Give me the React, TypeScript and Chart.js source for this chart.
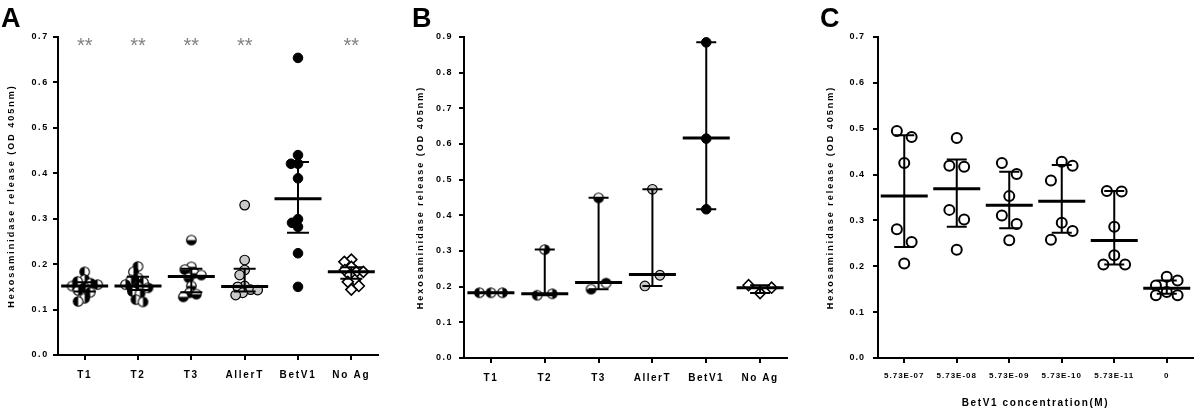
import React, { useEffect, useRef } from 'react';
import { Chart, registerables } from 'chart.js';

Chart.register(...registerables);

const FONT = "'Liberation Sans', Arial, Helvetica, sans-serif";
const W = 400;
const H = 410;

// ---------------- Panel A ----------------
const A_CATEGORIES = ['T1', 'T2', 'T3', 'AllerT', 'BetV1', 'No Ag'];
const A_Y_TICKS = [0, 0.1, 0.2, 0.3, 0.4, 0.5, 0.6, 0.7];
const A_T1 = [0.183, 0.166, 0.162, 0.158, 0.155, 0.152, 0.148, 0.142, 0.138, 0.125, 0.118];
const A_T2 = [0.195, 0.183, 0.17, 0.165, 0.16, 0.155, 0.15, 0.148, 0.14, 0.135, 0.122, 0.117];
const A_T3 = [0.253, 0.194, 0.188, 0.18, 0.176, 0.17, 0.152, 0.137, 0.134, 0.128];
const A_ALLERT = [0.33, 0.209, 0.187, 0.176, 0.152, 0.15, 0.144, 0.143, 0.137, 0.132];
const A_BETV1 = [0.654, 0.44, 0.421, 0.421, 0.389, 0.299, 0.291, 0.282, 0.224, 0.15];
const A_NOAG = [0.21, 0.205, 0.194, 0.187, 0.183, 0.183, 0.176, 0.165, 0.161, 0.152, 0.144];
const A_MEDIAN = [0.152, 0.152, 0.173, 0.151, 0.344, 0.183];
const A_LOW = [0.14, 0.143, 0.138, 0.14, 0.269, 0.168];
const A_HIGH = [0.16, 0.172, 0.19, 0.19, 0.425, 0.193];
const A_SIGNIF = ['**', '**', '**', '**', '', '**'];

// ---------------- Panel B ----------------
const B_CATEGORIES = ['T1', 'T2', 'T3', 'AllerT', 'BetV1', 'No Ag'];
const B_Y_TICKS = [0, 0.1, 0.2, 0.3, 0.4, 0.5, 0.6, 0.7, 0.8, 0.9];
const B_T1 = [0.183, 0.183, 0.183];
const B_T2 = [0.304, 0.176, 0.18];
const B_T3 = [0.449, 0.193, 0.21];
const B_ALLERT = [0.473, 0.202, 0.232];
const B_BETV1 = [0.885, 0.615, 0.417];
const B_NOAG = [0.204, 0.197, 0.182];
const B_MEDIAN = [0.183, 0.18, 0.212, 0.234, 0.617, 0.197];
const B_LOW = [0.183, 0.176, 0.193, 0.202, 0.417, 0.182];
const B_HIGH = [0.183, 0.304, 0.449, 0.473, 0.885, 0.204];

// ---------------- Panel C ----------------
const C_CATEGORIES = ['5.73E-07', '5.73E-08', '5.73E-09', '5.73E-10', '5.73E-11', '0'];
const C_Y_TICKS = [0, 0.1, 0.2, 0.3, 0.4, 0.5, 0.6, 0.7];
const C_E07 = [0.495, 0.482, 0.425, 0.281, 0.253, 0.206];
const C_E08 = [0.48, 0.419, 0.417, 0.323, 0.302, 0.236];
const C_E09 = [0.425, 0.401, 0.353, 0.311, 0.292, 0.257];
const C_E10 = [0.428, 0.419, 0.387, 0.295, 0.277, 0.258];
const C_E11 = [0.364, 0.363, 0.286, 0.224, 0.204, 0.204];
const C_ZERO = [0.177, 0.169, 0.158, 0.144, 0.137, 0.137];
const C_MEAN = [0.353, 0.369, 0.333, 0.342, 0.256, 0.152];
const C_LOW = [0.242, 0.286, 0.283, 0.273, 0.204, 0.14];
const C_HIGH = [0.486, 0.433, 0.406, 0.421, 0.364, 0.169];

const Y_TITLE = 'Hexosaminidase release (OD 405nm)';
const C_X_TITLE = 'BetV1 concentration(M)';

type Marker =
  | { kind: 'half'; pattern: string }
  | { kind: 'circle'; fill: string; bw: number; r: number }
  | { kind: 'diamond' };

interface Panel {
  letter: string;
  letterX: number;
  categories: string[];
  yTicks: number[];
  groups: number[][];
  markers: Marker[];
  center: number[];
  low: number[];
  high: number[];
  signif?: string[];
  box: { left: number; right: number; top: number; bottom: number };
  yTitleX: number;
  capHalf: number;
  spread: 'swarm' | 'rows';
  pairPattern: number[];
  triplePattern: number[];
  minDist: number;
  tickSpacing: number;
  xFont: number;
  xPad: number;
  yPad: number;
  xTitle?: string;
}

const GRAY = { kind: 'circle', fill: '#c9c9c9', bw: 1.2, r: 4.8 } as Marker;
const BLACK = { kind: 'circle', fill: '#000000', bw: 1, r: 4.8 } as Marker;
const OPEN = { kind: 'circle', fill: '#ffffff', bw: 2, r: 5 } as Marker;
const DIAMOND = { kind: 'diamond' } as Marker;

const PANEL_A: Panel = {
  letter: 'A',
  letterX: 1,
  categories: A_CATEGORIES,
  yTicks: A_Y_TICKS,
  groups: [A_T1, A_T2, A_T3, A_ALLERT, A_BETV1, A_NOAG],
  markers: [
    { kind: 'half', pattern: 'LRLRLRLRLRL' },
    { kind: 'half', pattern: 'LRLRLRLRLRLR' },
    { kind: 'half', pattern: 'BBBBBBBBBB' },
    GRAY,
    BLACK,
    DIAMOND,
  ],
  center: A_MEDIAN,
  low: A_LOW,
  high: A_HIGH,
  signif: A_SIGNIF,
  box: { left: 58, right: 378, top: 37, bottom: 355 },
  yTitleX: 12,
  capHalf: 11,
  spread: 'swarm',
  pairPattern: [-7.5, 7.5],
  triplePattern: [0, 11, -11],
  minDist: 7,
  tickSpacing: 1.7,
  xFont: 10,
  xPad: 9,
  yPad: 4,
};

const PANEL_B: Panel = {
  letter: 'B',
  letterX: 12,
  categories: B_CATEGORIES,
  yTicks: B_Y_TICKS,
  groups: [B_T1, B_T2, B_T3, B_ALLERT, B_BETV1, B_NOAG],
  markers: [
    { kind: 'half', pattern: 'LRL' },
    { kind: 'half', pattern: 'RLR' },
    { kind: 'half', pattern: 'BBT' },
    GRAY,
    BLACK,
    DIAMOND,
  ],
  center: B_MEDIAN,
  low: B_LOW,
  high: B_HIGH,
  box: { left: 64, right: 387, top: 37, bottom: 358 },
  yTitleX: 21,
  capHalf: 10,
  spread: 'rows',
  pairPattern: [7.5, -7.5],
  triplePattern: [-11.5, 11.5, 0],
  minDist: 10,
  tickSpacing: 1.5,
  xFont: 10,
  xPad: 9,
  yPad: 6,
};

const PANEL_C: Panel = {
  letter: 'C',
  letterX: 20,
  categories: C_CATEGORIES,
  yTicks: C_Y_TICKS,
  groups: [C_E07, C_E08, C_E09, C_E10, C_E11, C_ZERO],
  markers: [OPEN, OPEN, OPEN, OPEN, OPEN, OPEN],
  center: C_MEAN,
  low: C_LOW,
  high: C_HIGH,
  box: { left: 78, right: 398, top: 37, bottom: 358 },
  yTitleX: 31,
  capHalf: 10,
  spread: 'rows',
  pairPattern: [-7.5, 7.5],
  triplePattern: [0, 11, -11],
  minDist: 10.5,
  tickSpacing: 1,
  xFont: 8,
  xPad: 8,
  yPad: 8,
  xTitle: C_X_TITLE,
};

// half-filled circle marker drawn on a tiny canvas
const halfCache: Record<string, HTMLCanvasElement> = {};
function halfCircle(orient: string): HTMLCanvasElement {
  if (halfCache[orient]) return halfCache[orient];
  const r = 4.8;
  const lw = 1.1;
  const size = 13;
  const c = document.createElement('canvas');
  c.width = size;
  c.height = size;
  const ctx = c.getContext('2d')!;
  const cx = size / 2;
  const cy = size / 2;
  ctx.beginPath();
  ctx.arc(cx, cy, r, 0, Math.PI * 2);
  ctx.fillStyle = '#fff';
  ctx.fill();
  const start: Record<string, number> = { L: Math.PI / 2, R: -Math.PI / 2, T: Math.PI, B: 0 };
  const s = start[orient] ?? 0;
  ctx.beginPath();
  ctx.moveTo(cx, cy);
  ctx.arc(cx, cy, r, s, s + Math.PI);
  ctx.closePath();
  ctx.fillStyle = '#000';
  ctx.fill();
  ctx.beginPath();
  ctx.arc(cx, cy, r, 0, Math.PI * 2);
  ctx.lineWidth = lw;
  ctx.strokeStyle = '#000';
  ctx.stroke();
  halfCache[orient] = c;
  return c;
}

// dense beeswarm: horizontal offsets (category units) so markers do not pile up
function swarm(values: number[], pxPerUnit: number, pxPerCat: number, minDist: number): number[] {
  const order = values.map((_, i) => i).sort((a, b) => values[b] - values[a]);
  const placed: { x: number; y: number }[] = [];
  const offs = new Array(values.length).fill(0);
  for (const i of order) {
    const y = values[i] * pxPerUnit;
    let best = 0;
    for (let k = 0; k < 400; k++) {
      const cand = (k % 2 === 0 ? 1 : -1) * Math.ceil(k / 2) * 0.5;
      if (placed.every((p) => Math.hypot(p.x - cand, p.y - y) >= minDist)) {
        best = cand;
        break;
      }
    }
    placed.push({ x: best, y });
    offs[i] = best / pxPerCat;
  }
  return offs;
}

// row layout: close values share a row and are spread symmetrically
function rows(values: number[], pxPerUnit: number, pxPerCat: number, pair: number[], triple: number[]): number[] {
  const order = values.map((_, i) => i).sort((a, b) => values[b] - values[a]);
  const offs = new Array(values.length).fill(0);
  const clusters: number[][] = [];
  let cur: number[] = [];
  for (const i of order) {
    if (cur.length === 0) {
      cur.push(i);
      continue;
    }
    const prev = values[cur[cur.length - 1]];
    const first = values[cur[0]];
    const gap = (prev - values[i]) * pxPerUnit;
    const span = (first - values[i]) * pxPerUnit;
    if (gap < 15 && span < 20 && cur.length < 3) cur.push(i);
    else {
      clusters.push(cur);
      cur = [i];
    }
  }
  if (cur.length) clusters.push(cur);
  for (const cl of clusters) {
    const pattern = cl.length === 1 ? [0] : cl.length === 2 ? pair : triple;
    cl.forEach((idx, j) => {
      offs[idx] = pattern[j] / pxPerCat;
    });
  }
  return offs;
}

function buildConfig(p: Panel): any {
  const n = p.categories.length;
  const yMax = p.yTicks[p.yTicks.length - 1];
  const pxPerUnit = (p.box.bottom - p.box.top) / yMax;
  const pxPerCat = (p.box.right - p.box.left) / n;

  const datasets = p.groups.map((vals, i) => {
    const offs =
      p.spread === 'swarm'
        ? swarm(vals, pxPerUnit, pxPerCat, p.minDist)
        : rows(vals, pxPerUnit, pxPerCat, p.pairPattern, p.triplePattern);
    const m = p.markers[i];
    const base: any = {
      data: vals.map((v, j) => ({ x: i + offs[j], y: v })),
      borderColor: '#000',
    };
    if (m.kind === 'half') {
      base.pointStyle = vals.map((_, j) => halfCircle(m.pattern[j % m.pattern.length]));
      base.pointRadius = 5;
    } else if (m.kind === 'circle') {
      base.pointStyle = 'circle';
      base.pointRadius = m.r;
      base.backgroundColor = m.fill;
      base.borderWidth = m.bw;
    } else {
      base.pointStyle = 'rectRot';
      base.pointRadius = 5.5;
      base.backgroundColor = '#fff';
      base.borderWidth = 1.6;
    }
    base.pointHoverRadius = base.pointRadius;
    return base;
  });

  const deco = {
    id: 'deco',
    beforeDraw(chart: any) {
      chart.ctx.letterSpacing = p.tickSpacing + 'px';
    },
    afterDatasetsDraw(chart: any) {
      const ctx = chart.ctx;
      const xs = chart.scales.x;
      const ys = chart.scales.y;
      ctx.save();
      ctx.strokeStyle = '#000';
      ctx.lineCap = 'butt';
      p.center.forEach((c, i) => {
        const x = xs.getPixelForValue(i);
        const yc = ys.getPixelForValue(c);
        const yl = ys.getPixelForValue(p.low[i]);
        const yh = ys.getPixelForValue(p.high[i]);
        ctx.lineWidth = 2;
        ctx.beginPath();
        ctx.moveTo(x, yh);
        ctx.lineTo(x, yl);
        ctx.moveTo(x - p.capHalf, yh);
        ctx.lineTo(x + p.capHalf, yh);
        ctx.moveTo(x - p.capHalf, yl);
        ctx.lineTo(x + p.capHalf, yl);
        ctx.stroke();
        ctx.lineWidth = 3;
        ctx.beginPath();
        ctx.moveTo(x - 23.5, yc);
        ctx.lineTo(x + 23.5, yc);
        ctx.stroke();
      });
      ctx.restore();
    },
    afterDraw(chart: any) {
      const ctx = chart.ctx;
      const area = chart.chartArea;
      const xs = chart.scales.x;
      ctx.save();
      ctx.fillStyle = '#000';
      // panel letter
      ctx.letterSpacing = '0px';
      ctx.font = `bold 27px ${FONT}`;
      ctx.textAlign = 'left';
      ctx.textBaseline = 'alphabetic';
      ctx.fillText(p.letter, p.letterX, 27);
      // y title
      ctx.save();
      ctx.letterSpacing = '2px';
      ctx.font = `bold 9px ${FONT}`;
      ctx.translate(p.yTitleX, (area.top + area.bottom) / 2);
      ctx.rotate(-Math.PI / 2);
      ctx.textAlign = 'center';
      ctx.textBaseline = 'middle';
      ctx.fillText(Y_TITLE, 0, 0);
      ctx.restore();
      // x title
      if (p.xTitle) {
        ctx.letterSpacing = '1.6px';
        ctx.font = `bold 10px ${FONT}`;
        ctx.textAlign = 'center';
        ctx.textBaseline = 'middle';
        ctx.fillText(p.xTitle, (area.left + area.right) / 2, 403);
      }
      // significance marks
      if (p.signif) {
        ctx.letterSpacing = '0px';
        ctx.font = `20px ${FONT}`;
        ctx.fillStyle = '#808080';
        ctx.textAlign = 'center';
        ctx.textBaseline = 'alphabetic';
        p.signif.forEach((s, i) => {
          if (s) ctx.fillText(s, xs.getPixelForValue(i), area.top + 15);
        });
      }
      ctx.restore();
    },
  };

  return {
    type: 'scatter',
    data: { datasets },
    plugins: [deco],
    options: {
      responsive: false,
      animation: false,
      events: [],
      layout: { padding: { left: 0, right: W - p.box.right, top: p.box.top, bottom: 0 } },
      plugins: { legend: { display: false }, tooltip: { enabled: false } },
      scales: {
        x: {
          type: 'linear',
          min: -0.5,
          max: n - 0.5,
          bounds: 'data',
          afterBuildTicks: (s: any) => {
            s.ticks = p.categories.map((_, i) => ({ value: i }));
          },
          afterFit: (s: any) => {
            s.height = H - p.box.bottom;
          },
          ticks: {
            callback: (v: any) => p.categories[Math.round(v)] ?? '',
            color: '#000',
            font: { family: FONT, size: p.xFont, weight: 'bold' },
            padding: p.xPad,
            maxRotation: 0,
            minRotation: 0,
            autoSkip: false,
          },
          grid: { display: true, drawOnChartArea: false, drawTicks: true, tickLength: 5, color: '#000', lineWidth: 2 },
          border: { display: true, color: '#000', width: 2 },
        },
        y: {
          type: 'linear',
          min: 0,
          max: yMax,
          afterBuildTicks: (s: any) => {
            s.ticks = p.yTicks.map((v) => ({ value: v }));
          },
          afterFit: (s: any) => {
            s.width = p.box.left;
          },
          ticks: {
            callback: (v: any) => Number(v).toFixed(1),
            color: '#000',
            font: { family: FONT, size: 9, weight: 'bold' },
            padding: p.yPad,
          },
          grid: { display: true, drawOnChartArea: false, drawTicks: true, tickLength: 5, color: '#000', lineWidth: 2 },
          border: { display: true, color: '#000', width: 2 },
        },
      },
    },
  };
}

function PanelChart({ p, left }: { p: Panel; left: number }) {
  const ref = useRef<HTMLCanvasElement>(null);
  useEffect(() => {
    const chart = new Chart(ref.current as HTMLCanvasElement, buildConfig(p));
    return () => chart.destroy();
  }, [p]);
  return (
    <canvas
      ref={ref}
      width={W}
      height={H}
      style={{ position: 'absolute', left, top: 0, width: W, height: H, display: 'block' }}
    />
  );
}

export default function App() {
  return (
    <div style={{ position: 'absolute', left: 0, top: 0, width: 1200, height: 410, background: '#fff', overflow: 'hidden' }}>
      <PanelChart p={PANEL_A} left={0} />
      <PanelChart p={PANEL_B} left={400} />
      <PanelChart p={PANEL_C} left={800} />
    </div>
  );
}
